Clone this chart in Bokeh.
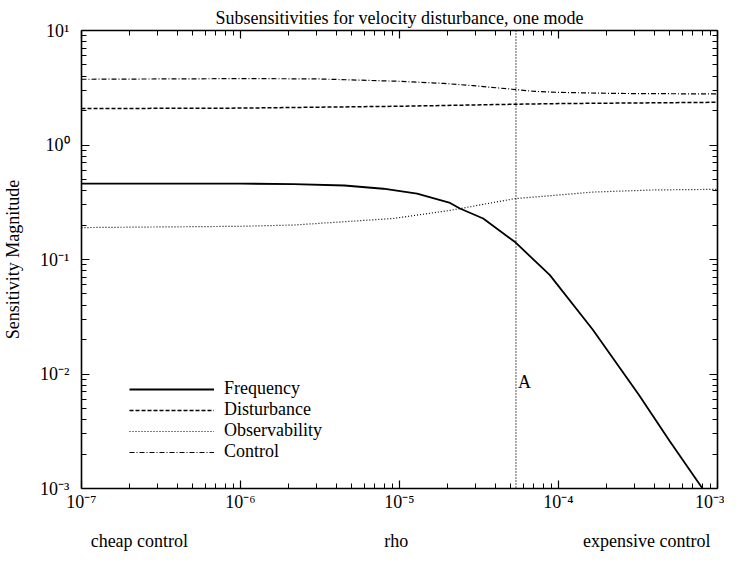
from bokeh.plotting import figure
from bokeh.models import FixedTicker, LogAxis, Label, Legend, LegendItem, Span
from bokeh.embed import file_html
from bokeh.resources import INLINE

# ---- data ----
rho_freq = [1e-7, 1e-6, 2.16e-6, 4.5e-6, 7.9e-6, 1.29e-5, 2.08e-5, 2.4e-5, 3.36e-5, 5.3e-5, 8.8e-5, 1.64e-4, 3.2e-4, 5.0e-4, 8.05e-4, 1.0e-3]
frequency = [0.46, 0.46, 0.455, 0.443, 0.415, 0.376, 0.312, 0.279, 0.228, 0.143, 0.0734, 0.0245, 0.0066, 0.0026, 0.001, 0.00065]

rho_dist = [1e-7, 1e-6, 1e-5, 5.4e-5, 1e-4, 1e-3]
disturbance = [2.08, 2.10, 2.18, 2.27, 2.30, 2.36]

rho_obs = [1e-7, 1e-6, 2.16e-6, 9.1e-6, 2.1e-5, 5.3e-5, 1.64e-4, 4e-4, 1e-3]
observability = [0.19, 0.195, 0.20, 0.228, 0.269, 0.34, 0.388, 0.405, 0.41]

rho_ctrl = [1e-7, 1e-6, 3e-6, 1e-5, 1.9e-5, 2.9e-5, 5.1e-5, 7.1e-5, 1.02e-4, 2.3e-4, 1e-3]
control = [3.75, 3.8, 3.78, 3.6, 3.45, 3.3, 3.07, 2.94, 2.88, 2.82, 2.79]

rho_A = 5.4e-5
A_level = 10 ** -2.16

x_ticks = [1e-7, 1e-6, 1e-5, 1e-4, 1e-3]
x_tick_labels = ["10⁻⁷", "10⁻⁶", "10⁻⁵", "10⁻⁴", "10⁻³"]
y_ticks = [1e-3, 1e-2, 1e-1, 1.0, 10.0]
y_tick_labels = ["10⁻³", "10⁻²", "10⁻¹", "10⁰", "10¹"]

title_text = "Subsensitivities for velocity disturbance, one mode"
y_title = "Sensitivity Magnitude"
note_texts = ["cheap control", "rho", "expensive control"]
note_pos = [10 ** -6.636, 10 ** -5.02, 10 ** -3.445]

FONT = "Liberation Serif"
FS = "18px"

x_minor = [m * 10.0 ** e for e in range(-7, -3) for m in range(2, 10)]
y_minor = [m * 10.0 ** e for e in range(-3, 1) for m in range(2, 10)]

p = figure(width=724, height=553, x_axis_type="log", y_axis_type="log",
           x_range=(1e-7, 1e-3), y_range=(1e-3, 10),
           output_backend="svg", toolbar_location=None,
           min_border_left=79, min_border_right=7, min_border_top=30, min_border_bottom=63)

p.title.text = title_text
p.title.text_font = FONT
p.title.text_font_size = FS
p.title.text_font_style = "normal"
p.title.text_color = "black"
p.title.align = "center"
p.title.standoff = 5

p.grid.visible = False
p.outline_line_color = None
p.background_fill_color = "white"
p.border_fill_color = "white"


def style_axis(ax, labels):
    ax.axis_line_color = "black"
    ax.axis_line_width = 1.6
    ax.major_tick_in = 8
    ax.major_tick_out = 0
    ax.minor_tick_in = 5
    ax.minor_tick_out = 0
    ax.major_tick_line_color = "black"
    ax.minor_tick_line_color = "black"
    ax.major_tick_line_width = 1.2
    ax.minor_tick_line_width = 1.0
    if not labels:
        ax.major_label_text_font_size = "1px"
        ax.major_label_text_color = None
        ax.major_label_standoff = 0


xa = p.xaxis[0]
xa.ticker = FixedTicker(ticks=x_ticks, minor_ticks=x_minor)
xa.major_label_overrides = dict(zip(x_ticks, x_tick_labels))
style_axis(xa, True)
xa.major_label_text_font = FONT
xa.major_label_text_font_size = FS
xa.major_label_text_color = "black"
xa.major_label_standoff = 3

ya = p.yaxis[0]
ya.ticker = FixedTicker(ticks=y_ticks, minor_ticks=y_minor)
ya.major_label_overrides = dict(zip(y_ticks, y_tick_labels))
style_axis(ya, True)
ya.major_label_text_font = FONT
ya.major_label_text_font_size = FS
ya.major_label_text_color = "black"
ya.major_label_standoff = 12
ya.axis_label = y_title
ya.axis_label_text_font = FONT
ya.axis_label_text_font_size = FS
ya.axis_label_text_font_style = "normal"
ya.axis_label_text_color = "black"
ya.axis_label_standoff = 14

top = LogAxis(ticker=FixedTicker(ticks=x_ticks, minor_ticks=x_minor))
style_axis(top, False)
p.add_layout(top, "above")
right = LogAxis(ticker=FixedTicker(ticks=y_ticks, minor_ticks=y_minor))
style_axis(right, False)
p.add_layout(right, "right")

# second row of bottom texts: cheap control / rho / expensive control
notes = LogAxis(ticker=FixedTicker(ticks=note_pos, minor_ticks=[]))
notes.major_label_overrides = dict(zip(note_pos, note_texts))
notes.axis_line_color = None
notes.major_tick_line_color = None
notes.minor_tick_line_color = None
notes.major_tick_in = 0
notes.major_tick_out = 0
notes.minor_tick_in = 0
notes.minor_tick_out = 0
notes.major_label_text_font = FONT
notes.major_label_text_font_size = FS
notes.major_label_text_color = "black"
notes.major_label_standoff = 16
p.add_layout(notes, "below")

r_freq = p.line(rho_freq, frequency, line_color="black", line_width=1.8)
r_dist = p.line(rho_dist, disturbance, line_color="black", line_width=1.5, line_dash="4 2")
r_obs = p.line(rho_obs, observability, line_color="black", line_width=1.2, line_dash="1 2")
r_ctrl = p.line(rho_ctrl, control, line_color="black", line_width=1.2, line_dash="5 2 1 2")

p.add_layout(Span(location=rho_A, dimension="height", line_color="black",
                  line_width=1.3, line_dash="1 2"))
p.add_layout(Label(x=rho_A, y=A_level, text="A", x_offset=2, text_color="black",
                   text_font=FONT, text_font_size=FS, text_baseline="bottom"))

legend = Legend(items=[LegendItem(label="Frequency", renderers=[r_freq]),
                       LegendItem(label="Disturbance", renderers=[r_dist]),
                       LegendItem(label="Observability", renderers=[r_obs]),
                       LegendItem(label="Control", renderers=[r_ctrl])],
                location=(48, 26), padding=0, spacing=0, margin=0,
                glyph_width=85, glyph_height=20, label_height=20, label_standoff=10,
                border_line_alpha=0, background_fill_alpha=0,
                label_text_font=FONT, label_text_font_size=FS, label_text_color="black")
p.add_layout(legend)

open("out.html", "w").write(file_html(p, INLINE))
